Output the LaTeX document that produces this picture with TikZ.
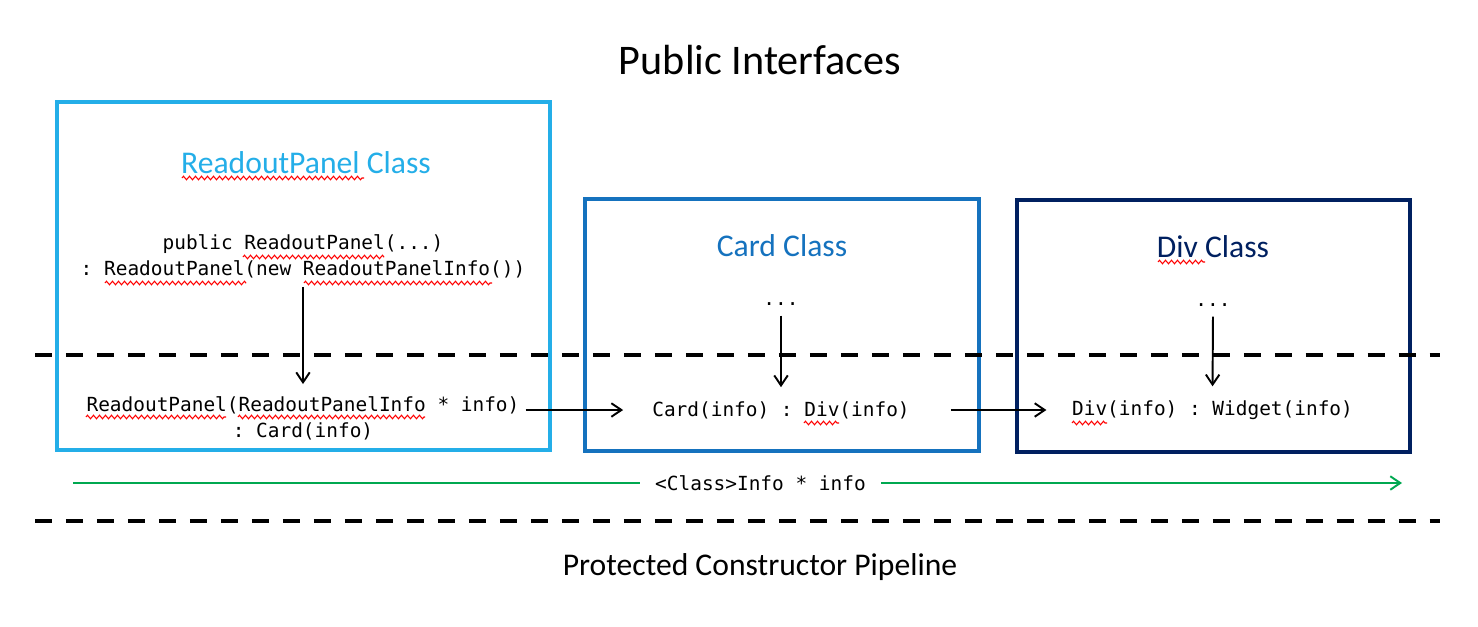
\documentclass[tikz,border=0pt]{standalone}
\usepackage{fontspec}
\setmainfont{Carlito}
\setmonofont{DejaVu Sans Mono}
\usepackage{tikz}
\usetikzlibrary{arrows.meta, positioning, decorations.pathmorphing}
\definecolor{readoutcolor}{RGB}{36,174,232}
\definecolor{cardcolor}{RGB}{21,114,190}
\definecolor{divcolor}{RGB}{0,32,96}
\definecolor{infocolor}{RGB}{0,168,80}

\begin{document}
\begin{tikzpicture}[
    x=0.02cm, y=-0.02cm,
    classbox/.style={draw, line width=0.08cm, minimum height=5.04cm, minimum width=7.88cm},
    classtitle/.style={font=\fontsize{18}{22}\selectfont},
    code/.style={font=\ttfamily\fontsize{11.06}{14.8}\selectfont, align=center},
    arrow/.style={-{Straight Barb[length=2mm, width=2.7mm]}, line width=1.1pt},
    layerline/.style={line width=0.08cm, dash pattern=on 0.34cm off 0.28cm},
    squiggle/.style={red, line width=0.6pt, decorate, decoration={zigzag, segment length=0.12cm, amplitude=0.035cm}}
]
    \useasboundingbox (0,0) rectangle (1478,626);

    \node[font=\fontsize{24}{28}\selectfont] (public) at (760,60) {Public Interfaces};
    \node[font=\fontsize{18}{22}\selectfont] (pipeline) at (760,567) {Protected Constructor Pipeline};

    % class boxes
    \node[classbox, draw=readoutcolor, minimum width=9.86cm, minimum height=6.96cm] (readoutbox) at (303.5,276) {};
    \node[classbox, draw=cardcolor] (cardbox) at (782,325) {};
    \node[classbox, draw=divcolor] (divbox) at (1213.5,326) {};

    \node[classtitle, text=readoutcolor] (readouttitle) at (306,163) {ReadoutPanel Class};
    \node[classtitle, text=cardcolor] (cardtitle) at (782,246) {Card Class};
    \node[classtitle, text=divcolor] (divtitle) at (1213,247) {Div Class};

    % layers
    \coordinate (toplinestart) at (35,355);
    \coordinate (toplineend) at (1440,355);
    \coordinate (botlinestart) at (35,521);
    \coordinate (botlineend) at (1440,521);
    \draw[layerline] (toplinestart) -- (toplineend);
    \draw[layerline] (botlinestart) -- (botlineend);

    % constructors
    \node[code] (publicctor) at (303,256) {public ReadoutPanel(...)\\: ReadoutPanel(new ReadoutPanelInfo())};
    \node[code] (protctor) at (303,418) {ReadoutPanel(ReadoutPanelInfo * info)\\: Card(info)};
    \node[code] (carddots) at (781,304) {...};
    \node[code] (cardctor) at (781,410) {Card(info) : Div(info)};
    \node[code] (divdots) at (1213,305) {...};
    \node[code] (divctor) at (1212.5,410) {Div(info) : Widget(info)};

    \draw[arrow, shorten <=0.06cm, shorten >=0.12cm] (publicctor.south) -- (protctor.north);
    \draw[arrow, shorten >=0.46cm] (protctor.east |- cardctor.west) -- (cardctor.west);
    \draw[arrow, shorten <=0.7cm, shorten >=0.39cm] (cardctor.east) -- (divctor.west);
    \draw[arrow, shorten <=0.08cm, shorten >=0.16cm] (carddots.south) -- (cardctor.north);
    \draw[arrow, shorten <=0.08cm, shorten >=0.16cm] (divdots.south) -- (divctor.north);

    % info pointer
    \node[code, inner xsep=0.3cm] (classinfo) at (760.5,483) {<Class>Info * info};
    \coordinate (infostart) at (73,483);
    \coordinate (infoend) at (1402,483);
    \draw[infocolor, line width=1.1pt] (infostart) -- (classinfo.west);
    \draw[arrow, infocolor] (classinfo.east) -- (infoend);

    % spelling marks
    \draw[squiggle] (182,178) -- (364,178);
    \draw[squiggle] (1158,262) -- (1205,262);
    \draw[squiggle] (243,257) -- (384,257);
    \draw[squiggle] (105,283) -- (246,283);
    \draw[squiggle] (304,283) -- (492,283);
    \draw[squiggle] (86,417) -- (226,417);
    \draw[squiggle] (238,417) -- (425,417);
    \draw[squiggle] (804,423) -- (839,423);
    \draw[squiggle] (1072,423) -- (1107,423);
\end{tikzpicture}
\end{document}
